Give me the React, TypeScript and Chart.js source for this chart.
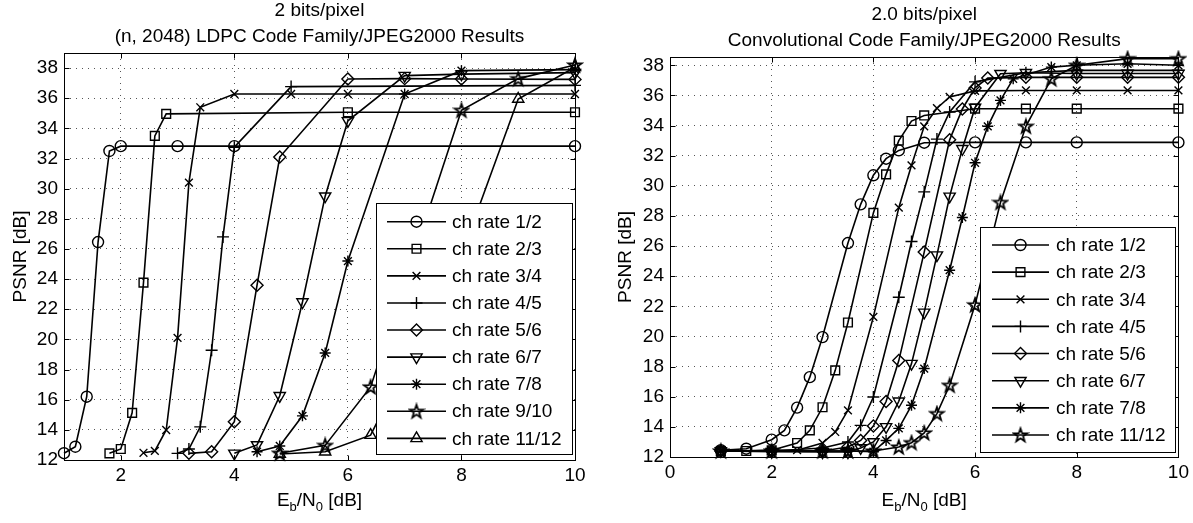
import React, { useEffect, useRef } from "react";
import { Chart, registerables } from "chart.js";
import { drawPoint } from "chart.js/helpers";

Chart.register(...registerables);

// ---------- tick labels ----------
const Y_TICKS = [12, 14, 16, 18, 20, 22, 24, 26, 28, 30, 32, 34, 36, 38];
const L_X_TICKS = [2, 4, 6, 8, 10];
const R_X_TICKS = [0, 2, 4, 6, 8, 10];

// ---------- left chart: (n, 2048) LDPC ----------
const L_TITLE = ["2 bits/pixel", "(n, 2048) LDPC Code Family/JPEG2000 Results"];
const L_LABELS = ["ch rate 1/2", "ch rate 2/3", "ch rate 3/4", "ch rate 4/5", "ch rate 5/6", "ch rate 6/7", "ch rate 7/8", "ch rate 9/10", "ch rate 11/12"];

const L12_X = [1, 1.2, 1.4, 1.6, 1.8, 2, 3, 4, 10];
const L12_Y = [12.45, 12.88, 16.2, 26.46, 32.5, 32.82, 32.82, 32.82, 32.82];
const L23_X = [1.8, 2, 2.2, 2.4, 2.6, 2.8, 6, 10];
const L23_Y = [12.44, 12.73, 15.13, 23.77, 33.5, 34.96, 35.07, 35.07];
const L34_X = [2.4, 2.6, 2.8, 3, 3.2, 3.4, 4, 5, 6, 10];
const L34_Y = [12.48, 12.6, 13.99, 20.1, 30.4, 35.4, 36.28, 36.28, 36.28, 36.28];
const L45_X = [3, 3.2, 3.4, 3.6, 3.8, 4, 5, 10];
const L45_Y = [12.44, 12.73, 14.2, 19.28, 26.8, 32.75, 36.77, 36.85];
const L56_X = [3.2, 3.6, 4, 4.4, 4.8, 6, 7, 8, 10];
const L56_Y = [12.44, 12.55, 14.54, 23.6, 32.1, 37.28, 37.3, 37.28, 37.25];
const L67_X = [4, 4.4, 4.8, 5.2, 5.6, 6, 7, 8, 10];
const L67_Y = [12.44, 13.0, 16.26, 22.48, 29.5, 34.5, 37.5, 37.6, 37.7];
const L78_X = [4.4, 4.8, 5.2, 5.6, 6, 7, 8, 10];
const L78_Y = [12.55, 12.93, 14.93, 19.1, 25.2, 36.28, 37.83, 37.9];
const L910_X = [4.8, 5.6, 6.4, 8, 9, 10];
const L910_Y = [12.45, 12.97, 16.85, 35.2, 37.3, 38.2];
const L1112_X = [4.8, 5.6, 6.4, 8, 9, 10];
const L1112_Y = [12.4, 12.55, 13.65, 25.6, 35.95, 38.05];

// ---------- right chart: convolutional ----------
const R_TITLE = ["2.0 bits/pixel", "Convolutional Code Family/JPEG2000 Results"];
const R_LABELS = ["ch rate 1/2", "ch rate 2/3", "ch rate 3/4", "ch rate 4/5", "ch rate 5/6", "ch rate 6/7", "ch rate 7/8", "ch rate 11/12"];

const R12_X = [1, 1.5, 2, 2.25, 2.5, 2.75, 3, 3.5, 3.75, 4, 4.25, 4.5, 5, 6, 7, 8, 10];
const R12_Y = [12.45, 12.55, 13.15, 13.77, 15.28, 17.3, 19.96, 26.2, 28.77, 30.7, 31.8, 32.35, 32.86, 32.88, 32.88, 32.88, 32.88];
const R23_X = [1, 1.5, 2, 2.5, 2.75, 3, 3.25, 3.5, 4, 4.25, 4.5, 4.75, 5, 6, 7, 8, 10];
const R23_Y = [12.4, 12.4, 12.45, 12.93, 13.77, 15.3, 17.75, 20.93, 28.2, 30.76, 33.0, 34.3, 34.67, 35.12, 35.12, 35.12, 35.12];
const R34_X = [1, 2, 2.5, 3, 3.25, 3.5, 4, 4.5, 4.75, 5, 5.25, 5.5, 6, 7, 8, 9, 10];
const R34_Y = [12.4, 12.45, 12.45, 12.93, 13.66, 15.1, 21.3, 28.55, 31.36, 33.95, 35.15, 35.9, 36.3, 36.33, 36.33, 36.33, 36.33];
const R45_X = [1, 2, 3, 3.5, 3.75, 4, 4.5, 4.75, 5, 5.25, 5.5, 6, 7, 8, 9, 10];
const R45_Y = [12.4, 12.4, 12.6, 13.0, 14.1, 15.98, 22.6, 26.3, 29.6, 33.1, 34.9, 36.9, 37.5, 37.66, 37.66, 37.66];
const R56_X = [1, 2, 3, 3.5, 3.75, 4, 4.25, 4.5, 5, 5.5, 5.75, 6, 6.25, 7, 8, 9, 10];
const R56_Y = [12.4, 12.4, 12.4, 12.66, 13.1, 14.05, 15.68, 18.4, 25.6, 33.05, 35.1, 36.5, 37.15, 37.2, 37.2, 37.2, 37.2];
const R67_X = [1, 2, 3, 3.5, 3.75, 4, 4.25, 4.5, 4.75, 5, 5.25, 5.5, 5.75, 6, 6.5, 7, 8, 9, 10];
const R67_Y = [12.4, 12.35, 12.33, 12.33, 12.6, 13.0, 14.0, 15.7, 18.2, 21.6, 25.4, 29.3, 32.46, 35.2, 37.44, 37.5, 37.45, 37.45, 37.45];
const R78_X = [1, 2, 3, 3.5, 4, 4.25, 4.5, 4.75, 5, 5.5, 5.75, 6, 6.25, 6.5, 6.75, 7.5, 8, 9, 10];
const R78_Y = [12.4, 12.4, 12.4, 12.4, 12.35, 13.1, 13.9, 15.43, 17.87, 24.4, 27.9, 31.53, 33.95, 35.67, 37.1, 37.88, 38.0, 38.1, 38.0];
const R1112_X = [1, 2, 3, 3.5, 4, 4.5, 4.75, 5, 5.25, 5.5, 6, 6.5, 7, 7.5, 8, 9, 10];
const R1112_Y = [12.4, 12.4, 12.4, 12.4, 12.4, 12.66, 12.95, 13.6, 14.88, 16.76, 22.1, 28.9, 33.95, 37.1, 38.0, 38.44, 38.44];

// ---------- marker styles ----------
type Marker = { style: any; radius: number; rotation?: number };
const M_CIRCLE: Marker = { style: "circle", radius: 5.5 };
const M_SQUARE: Marker = { style: "rect", radius: 6.2 };
const M_X: Marker = { style: "crossRot", radius: 5.5 };
const M_PLUS: Marker = { style: "cross", radius: 6 };
const M_DIAMOND: Marker = { style: "rectRot", radius: 6 };
const M_TRI_DOWN: Marker = { style: "triangle", radius: 6.5, rotation: 180 };
const M_ASTER: Marker = { style: "star", radius: 5.5 };
const M_PENTA: Marker = { style: "pentagram", radius: 7 };
const M_TRI_UP: Marker = { style: "triangle", radius: 6.5 };

const FONT = '"Liberation Sans", Arial, sans-serif';

function makePentagram(r: number): HTMLCanvasElement {
  const size = Math.ceil(2 * r + 4);
  const c = document.createElement("canvas");
  c.width = size;
  c.height = size;
  const g = c.getContext("2d")!;
  const cx = size / 2, cy = size / 2 + 0.5;
  const ri = r * 0.4;
  g.beginPath();
  for (let i = 0; i < 10; i++) {
    const rad = -Math.PI / 2 + (i * Math.PI) / 5;
    const rr = i % 2 === 0 ? r : ri;
    const px = cx + Math.cos(rad) * rr, py = cy + Math.sin(rad) * rr;
    if (i === 0) g.moveTo(px, py);
    else g.lineTo(px, py);
  }
  g.closePath();
  g.strokeStyle = "#000";
  g.lineJoin = "miter";
  g.lineWidth = 1.8;
  g.stroke();
  return c;
}

type PanelCfg = {
  width: number;
  left: number;
  right: number;
  top: number;
  bottom: number;
  xMin: number;
  xMax: number;
  yMax: number;
  xTicks: number[];
  title: string[];
  titleY: number[];
  yLabelX: number;
  xLabelY: number;
  series: { label: string; x: number[]; y: number[]; m: Marker }[];
  legend: { x1: number; y1: number; x2: number; y2: number; y0: number; dy: number; lx1: number; lx2: number; tx: number };
};

const LEFT_CFG: PanelCfg = {
  width: 600,
  left: 64,
  right: 575,
  top: 53,
  bottom: 460,
  xMin: 1,
  xMax: 10,
  yMax: 39,
  xTicks: L_X_TICKS,
  title: L_TITLE,
  titleY: [11, 37],
  yLabelX: 21,
  xLabelY: 500,
  series: [
    { label: L_LABELS[0], x: L12_X, y: L12_Y, m: M_CIRCLE },
    { label: L_LABELS[1], x: L23_X, y: L23_Y, m: M_SQUARE },
    { label: L_LABELS[2], x: L34_X, y: L34_Y, m: M_X },
    { label: L_LABELS[3], x: L45_X, y: L45_Y, m: M_PLUS },
    { label: L_LABELS[4], x: L56_X, y: L56_Y, m: M_DIAMOND },
    { label: L_LABELS[5], x: L67_X, y: L67_Y, m: M_TRI_DOWN },
    { label: L_LABELS[6], x: L78_X, y: L78_Y, m: M_ASTER },
    { label: L_LABELS[7], x: L910_X, y: L910_Y, m: M_PENTA },
    { label: L_LABELS[8], x: L1112_X, y: L1112_Y, m: M_TRI_UP },
  ],
  legend: { x1: 376, y1: 203, x2: 572, y2: 454, y0: 221.7, dy: 27.08, lx1: 387, lx2: 446, tx: 452 },
};

const RIGHT_CFG: PanelCfg = {
  width: 593,
  left: 70,
  right: 580,
  top: 57,
  bottom: 457,
  xMin: 0,
  xMax: 10,
  yMax: 38.55,
  xTicks: R_X_TICKS,
  title: R_TITLE,
  titleY: [15, 41],
  yLabelX: 26,
  xLabelY: 500,
  series: [
    { label: R_LABELS[0], x: R12_X, y: R12_Y, m: M_CIRCLE },
    { label: R_LABELS[1], x: R23_X, y: R23_Y, m: M_SQUARE },
    { label: R_LABELS[2], x: R34_X, y: R34_Y, m: M_X },
    { label: R_LABELS[3], x: R45_X, y: R45_Y, m: M_PLUS },
    { label: R_LABELS[4], x: R56_X, y: R56_Y, m: M_DIAMOND },
    { label: R_LABELS[5], x: R67_X, y: R67_Y, m: M_TRI_DOWN },
    { label: R_LABELS[6], x: R78_X, y: R78_Y, m: M_ASTER },
    { label: R_LABELS[7], x: R1112_X, y: R1112_Y, m: M_PENTA },
  ],
  legend: { x1: 380, y1: 227, x2: 575, y2: 452, y0: 245, dy: 27.14, lx1: 392, lx2: 449, tx: 456 },
};

function framePlugin(cfg: PanelCfg, resolveStyle: (m: Marker) => any) {
  return {
    id: "frame",
    afterDraw(chart: any) {
      const { ctx, chartArea: a } = chart;
      const xs = chart.scales.x, ys = chart.scales.y;
      ctx.save();
      ctx.strokeStyle = "#000";
      ctx.lineWidth = 1;
      const L = Math.round(a.left) + 0.5, R = Math.round(a.right) + 0.5;
      const T = Math.round(a.top) + 0.5, B = Math.round(a.bottom) + 0.5;
      ctx.strokeRect(L, T, R - L, B - T);
      ctx.beginPath();
      for (const v of cfg.xTicks) {
        const p = Math.round(xs.getPixelForValue(v)) + 0.5;
        ctx.moveTo(p, B); ctx.lineTo(p, B - 5);
        ctx.moveTo(p, T); ctx.lineTo(p, T + 5);
      }
      for (const v of Y_TICKS) {
        const p = Math.round(ys.getPixelForValue(v)) + 0.5;
        ctx.moveTo(L, p); ctx.lineTo(L + 5, p);
        ctx.moveTo(R, p); ctx.lineTo(R - 5, p);
      }
      ctx.stroke();

      // titles
      ctx.fillStyle = "#000";
      ctx.font = "19px " + FONT;
      ctx.textAlign = "center";
      ctx.textBaseline = "middle";
      const cx = (a.left + a.right) / 2;
      cfg.title.forEach((t, i) => ctx.fillText(t, cx, cfg.titleY[i]));

      // y label
      ctx.save();
      ctx.translate(cfg.yLabelX, (a.top + a.bottom) / 2);
      ctx.rotate(-Math.PI / 2);
      ctx.fillText("PSNR [dB]", 0, 0);
      ctx.restore();

      // x label with subscripts
      const parts: [string, boolean][] = [["E", false], ["b", true], ["/N", false], ["0", true], [" [dB]", false]];
      const mainF = "19px " + FONT, subF = "13px " + FONT;
      let w = 0;
      for (const [t, s] of parts) { ctx.font = s ? subF : mainF; w += ctx.measureText(t).width; }
      let x = cx - w / 2;
      ctx.textAlign = "left";
      ctx.textBaseline = "alphabetic";
      const base = cfg.xLabelY + 6;
      for (const [t, s] of parts) {
        ctx.font = s ? subF : mainF;
        ctx.fillText(t, x, s ? base + 5 : base);
        x += ctx.measureText(t).width;
      }

      // legend
      const lg = cfg.legend;
      ctx.fillStyle = "#fff";
      ctx.fillRect(lg.x1, lg.y1, lg.x2 - lg.x1, lg.y2 - lg.y1);
      ctx.strokeStyle = "#000";
      ctx.lineWidth = 1;
      ctx.strokeRect(Math.round(lg.x1) + 0.5, Math.round(lg.y1) + 0.5, Math.round(lg.x2 - lg.x1), Math.round(lg.y2 - lg.y1));
      cfg.series.forEach((s, i) => {
        const y = lg.y0 + i * lg.dy;
        ctx.beginPath();
        ctx.lineWidth = 1.6;
        ctx.strokeStyle = "#000";
        ctx.moveTo(lg.lx1, y);
        ctx.lineTo(lg.lx2, y);
        ctx.stroke();
        ctx.fillStyle = "rgba(0,0,0,0)";
        ctx.lineWidth = 1.4;
        drawPoint(ctx, { pointStyle: resolveStyle(s.m), radius: s.m.radius, rotation: s.m.rotation || 0, borderWidth: 1.4 } as any, (lg.lx1 + lg.lx2) / 2, y);
        ctx.fillStyle = "#000";
        ctx.font = "19px " + FONT;
        ctx.textAlign = "left";
        ctx.textBaseline = "middle";
        ctx.fillText(s.label, lg.tx, y + 1);
      });
      ctx.restore();
    },
  };
}

function Panel({ cfg, offset }: { cfg: PanelCfg; offset: number }) {
  const ref = useRef<HTMLCanvasElement>(null);
  useEffect(() => {
    const penta = makePentagram(M_PENTA.radius);
    const resolveStyle = (m: Marker) => (m.style === "pentagram" ? penta : m.style);
    const datasets = cfg.series.map((s) => ({
      label: s.label,
      data: s.x.map((x, i) => ({ x, y: s.y[i] })),
      borderColor: "#000",
      backgroundColor: "rgba(0,0,0,0)",
      borderWidth: 1.6,
      pointStyle: resolveStyle(s.m),
      pointRadius: s.m.radius,
      pointHoverRadius: s.m.radius,
      pointRotation: s.m.rotation || 0,
      pointBorderColor: "#000",
      pointBackgroundColor: "rgba(0,0,0,0)",
      pointBorderWidth: 1.4,
      tension: 0,
      fill: false,
      clip: false,
    }));
    const tickFont = { family: FONT, size: 19 };
    const chart = new Chart(ref.current!, {
      type: "line",
      data: { datasets },
      options: {
        animation: false,
        responsive: false,
        devicePixelRatio: 1,
        events: [],
        layout: { padding: { left: 0, right: cfg.width - cfg.right, top: cfg.top, bottom: 0 } },
        plugins: { legend: { display: false }, title: { display: false }, tooltip: { enabled: false } },
        scales: {
          x: {
            type: "linear",
            min: cfg.xMin,
            max: cfg.xMax,
            afterBuildTicks: (sc: any) => { sc.ticks = cfg.xTicks.map((v) => ({ value: v })); },
            afterFit: (sc: any) => { sc.height = 523 - cfg.bottom; },
            grid: { color: "#555", lineWidth: 1, drawTicks: false },
            border: { display: false, dash: [1, 5] },
            ticks: { color: "#000", font: tickFont, padding: 4, maxRotation: 0, autoSkip: false },
          },
          y: {
            type: "linear",
            min: 12,
            max: cfg.yMax,
            afterBuildTicks: (sc: any) => { sc.ticks = Y_TICKS.map((v) => ({ value: v })); },
            afterFit: (sc: any) => { sc.width = cfg.left; },
            grid: { color: "#555", lineWidth: 1, drawTicks: false },
            border: { display: false, dash: [1, 5] },
            ticks: { color: "#000", font: tickFont, padding: 6, autoSkip: false },
          },
        },
      } as any,
      plugins: [framePlugin(cfg, resolveStyle)],
    });
    return () => chart.destroy();
  }, []);
  return (
    <canvas
      ref={ref}
      width={cfg.width}
      height={523}
      style={{ position: "absolute", left: offset, top: 0, width: cfg.width, height: 523 }}
    />
  );
}

export default function App() {
  return (
    <div style={{ position: "absolute", left: 0, top: 0, width: 1193, height: 523, background: "#fff" }}>
      <Panel cfg={LEFT_CFG} offset={0} />
      <Panel cfg={RIGHT_CFG} offset={600} />
    </div>
  );
}
